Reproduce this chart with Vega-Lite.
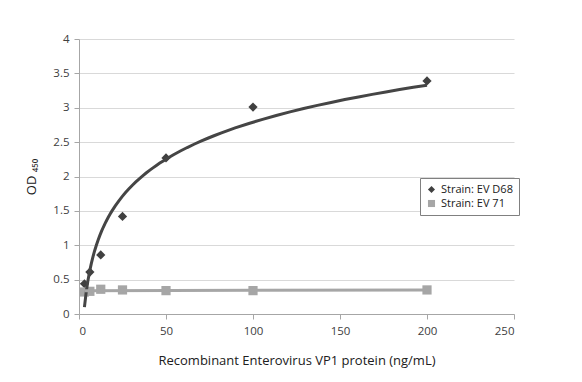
{
  "$schema": "https://vega.github.io/schema/vega-lite/v6.json",
  "width": 435,
  "height": 275,
  "autosize": {"type": "none"},
  "padding": {"left": 79, "top": 39, "right": 68, "bottom": 68},
  "background": "white",
  "config": {
    "view": {"stroke": null},
    "font": "Open Sans",
    "axis": {
      "labelFont": "Open Sans",
      "titleFont": "Open Sans",
      "labelColor": "#404040",
      "titleColor": "#202020",
      "labelFontSize": 11.5,
      "titleFontSize": 13,
      "titleFontWeight": "normal",
      "domainColor": "#a6a6a6",
      "tickColor": "#a6a6a6",
      "gridColor": "#d9d9d9",
      "tickSize": 5
    },
    "legend": {
      "labelFont": "Open Sans",
      "labelFontSize": 11,
      "labelColor": "#202020",
      "strokeColor": "#808080",
      "fillColor": "white",
      "padding": 6,
      "symbolSize": 50,
      "rowPadding": 2
    }
  },
  "data": {
    "values": [
      {"conc": 3.125, "od": 0.44, "strain": "Strain: EV D68"},
      {"conc": 6.25, "od": 0.61, "strain": "Strain: EV D68"},
      {"conc": 12.5, "od": 0.86, "strain": "Strain: EV D68"},
      {"conc": 25, "od": 1.42, "strain": "Strain: EV D68"},
      {"conc": 50, "od": 2.27, "strain": "Strain: EV D68"},
      {"conc": 100, "od": 3.01, "strain": "Strain: EV D68"},
      {"conc": 200, "od": 3.39, "strain": "Strain: EV D68"},
      {"conc": 3.125, "od": 0.32, "strain": "Strain: EV 71"},
      {"conc": 6.25, "od": 0.33, "strain": "Strain: EV 71"},
      {"conc": 12.5, "od": 0.36, "strain": "Strain: EV 71"},
      {"conc": 25, "od": 0.35, "strain": "Strain: EV 71"},
      {"conc": 50, "od": 0.34, "strain": "Strain: EV 71"},
      {"conc": 100, "od": 0.34, "strain": "Strain: EV 71"},
      {"conc": 200, "od": 0.35, "strain": "Strain: EV 71"}
    ]
  },
  "encoding": {
    "x": {
      "field": "conc", "type": "quantitative",
      "scale": {"domain": [0, 250], "nice": false},
      "axis": {"values": [0, 50, 100, 150, 200, 250], "grid": false, "title": "Recombinant Enterovirus VP1 protein (ng/mL)", "titlePadding": 18, "labelPadding": 6}
    },
    "y": {
      "field": "od", "type": "quantitative",
      "scale": {"domain": [0, 4], "nice": false},
      "axis": {"values": [0, 0.5, 1, 1.5, 2, 2.5, 3, 3.5, 4], "format": "~g", "grid": true, "title": "OD ₄₅₀", "titlePadding": 14, "labelPadding": 5}
    }
  },
  "layer": [
    {
      "mark": {"type": "point", "filled": true, "opacity": 1, "size": 85},
      "encoding": {
        "shape": {
          "field": "strain", "type": "nominal",
          "scale": {"domain": ["Strain: EV D68", "Strain: EV 71"], "range": ["diamond", "square"]},
          "legend": {"title": null, "orient": "none", "legendX": 341, "legendY": 139}
        },
        "color": {
          "field": "strain", "type": "nominal",
          "scale": {"domain": ["Strain: EV D68", "Strain: EV 71"], "range": ["#404040", "#a6a6a6"]},
          "legend": {"title": null, "orient": "none", "legendX": 341, "legendY": 139}
        }
      }
    },
    {
      "transform": [
        {"filter": "datum.strain === 'Strain: EV D68'"},
        {"regression": "od", "on": "conc", "method": "log"}
      ],
      "mark": {"type": "line", "color": "#454545", "strokeWidth": 3},
      "encoding": {}
    },
    {
      "transform": [
        {"filter": "datum.strain === 'Strain: EV 71'"},
        {"regression": "od", "on": "conc", "method": "linear"}
      ],
      "mark": {"type": "line", "color": "#a6a6a6", "strokeWidth": 3},
      "encoding": {}
    }
  ]
}
